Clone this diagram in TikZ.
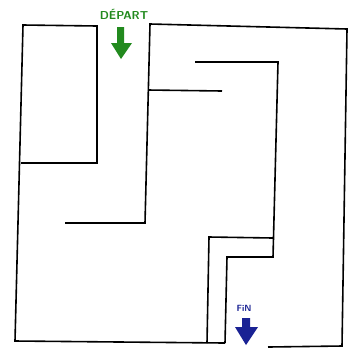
\documentclass[tikz,border=0pt]{standalone}
\usepackage{tikz}
\usetikzlibrary{positioning}
\definecolor{departgreen}{RGB}{34,138,30}
\definecolor{finblue}{RGB}{26,34,148}

\begin{document}
\begin{tikzpicture}[
        x=1pt, y=-1pt,
        wall/.style={line width=1.6pt, line join=miter},
        signtext/.style={font=\sffamily\bfseries, inner sep=0pt}
    ]
        \useasboundingbox (0,0) rectangle (352,349);
        \fill[white] (0,0) rectangle (352,349);

        % outer walls and the closed box on the left
        \draw[wall] (21,163) -- (97,163) -- (97,26) -- (23,25) -- (15,341) -- (225,343);
        \draw[wall] (65,223) -- (145,223) -- (150,24) -- (347,29) -- (342,346) -- (268,347);

        % inner walls
        \draw[wall] (148,90) -- (222,91);
        \draw[wall] (195,62) -- (278,62) -- (273,257) -- (227,257) -- (225,343);
        \draw[wall] (273,238) -- (209,237) -- (207,343);

        % start
        \node[signtext, text=departgreen, font=\sffamily\bfseries\fontsize{11.5}{11.5}\selectfont] (depart) at (124,14) {DÉPART};
        \fill[departgreen] (117,27) -- (124,27) -- (124,43) -- (132,43) -- (121,59) -- (111,43) -- (117,43) -- cycle;

        % end
        \node[signtext, text=finblue, font=\sffamily\bfseries\fontsize{9}{9}\selectfont] (fin) at (244,308) {FiN};
        \fill[finblue] (242,318) -- (250,318) -- (250,327) -- (258,327) -- (246,345) -- (235,327) -- (242,327) -- cycle;
    \end{tikzpicture}
\end{document}
